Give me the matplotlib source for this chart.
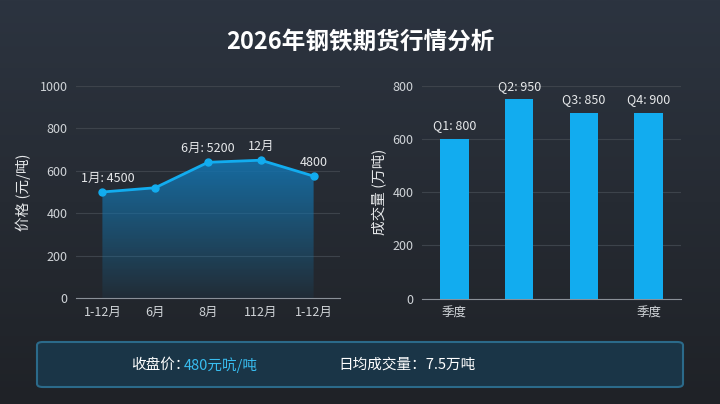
import numpy as np
import matplotlib
matplotlib.use('Agg')
import matplotlib.pyplot as plt
from matplotlib.patches import FancyBboxPatch

plt.rcParams['font.family'] = ['Noto Sans CJK SC', 'DejaVu Sans']

# 价格走势
price_x = ['1-12月', '6月', '8月', '112月', '1-12月']
price_y = [500, 520, 640, 650, 575]
price_notes = ['1月: 4500', '', '6月: 5200', '12月', '4800']

# 季度成交量
quarters = ['季度', '', '', '季度']
volume = [600, 750, 700, 700]
volume_notes = ['Q1: 800', 'Q2: 950', 'Q3: 850', 'Q4: 900']

txt = '#e6e8ea'
tick_c = '#d0d4d8'
grid_c = '#3d434b'
blue = '#12acef'

fig = plt.figure(figsize=(7.2, 4.04), dpi=100)

# 背景渐变
bg = fig.add_axes([0, 0, 1, 1])
grad = np.linspace(0, 1, 256).reshape(-1, 1)
bg.imshow(grad, aspect='auto', cmap=matplotlib.colors.LinearSegmentedColormap.from_list(
    'bg', ['#2c3440', '#262b33', '#1f2227']), extent=[0, 1, 0, 1], origin='upper')
bg.set_xlim(0, 1)
bg.set_ylim(0, 1)
bg.axis('off')

fig.text(0.5, 1 - 42 / 404, '2026年钢铁期货行情分析', ha='center', va='center',
         fontsize=17, fontweight='bold', color='white')

# 左图
ax1 = fig.add_axes([76 / 720, 1 - 298 / 404, 264 / 720, 212 / 404])
ax1.set_facecolor('none')
xs = np.arange(len(price_y))
ax1.plot(xs, price_y, color=blue, lw=2, marker='o', ms=5, zorder=4)

# 线下渐变填充
fill_cmap = matplotlib.colors.LinearSegmentedColormap.from_list(
    'fill', [(0.08, 0.45, 0.65, 0.08), (0.08, 0.45, 0.68, 0.9)])
img = ax1.imshow(np.linspace(0, 1, 256).reshape(-1, 1), cmap=fill_cmap, aspect='auto',
                 extent=[xs[0], xs[-1], 0, max(price_y)], origin='lower', zorder=2)
poly = ax1.fill_between(xs, price_y, 0, color='none')
img.set_clip_path(poly.get_paths()[0], transform=ax1.transData)

for x, y, n in zip(xs, price_y, price_notes):
    if n:
        ax1.text(x + (0.1 if x == 0 else 0), y + 35, n, ha='center', va='bottom',
                 fontsize=9, color=txt)

ax1.set_xlim(-0.5, 4.5)
ax1.set_ylim(0, 1000)
ax1.set_yticks(range(0, 1001, 200))
ax1.set_xticks(xs)
ax1.set_xticklabels(price_x)
ax1.set_ylabel('价格 (元/吨)', color=txt, fontsize=10.5, labelpad=6)

# 右图
ax2 = fig.add_axes([422 / 720, 1 - 298.5 / 404, 259 / 720, 212.5 / 404])
ax2.set_facecolor('none')
qx = np.arange(len(volume))
ax2.bar(qx, volume, width=0.44, color=blue, zorder=3)
for x, v, n in zip(qx, volume, volume_notes):
    ax2.text(x, v + 25, n, ha='center', va='bottom', fontsize=9, color=txt)
ax2.set_xlim(-0.5, 3.5)
ax2.set_ylim(0, 800)
ax2.set_yticks(range(0, 801, 200))
ax2.set_xticks(qx)
ax2.set_xticklabels(quarters)
ax2.set_ylabel('成交量 (万吨)', color=txt, fontsize=10.5, labelpad=4)

for ax in (ax1, ax2):
    ax.grid(axis='y', color=grid_c, lw=0.8, zorder=0)
    ax.set_axisbelow(True)
    for s in ['top', 'right', 'left']:
        ax.spines[s].set_visible(False)
    ax.spines['bottom'].set_color('#8a9098')
    ax.tick_params(length=0, colors=tick_c, labelsize=9, pad=6)

# 底部信息栏
box = FancyBboxPatch((37 / 720, 1 - 387 / 404), 646 / 720, 45 / 404,
                     boxstyle='round,pad=0,rounding_size=0.008',
                     transform=fig.transFigure, facecolor='#1a3547',
                     edgecolor='#2b6a8a', lw=1.5, zorder=1)
bg.add_patch(box)
lab = fig.text(131 / 720, 1 - 365 / 404, '收盘价：', ha='left', va='center',
               fontsize=10.5, color='white')
bg.annotate('480元吭/吨', xy=(1, 0.5), xycoords=lab, xytext=(-4, 0),
            textcoords='offset points', ha='left', va='center',
            fontsize=10.5, color='#38bdf0')
fig.text(338 / 720, 1 - 365 / 404, '日均成交量：7.5万吨', ha='left', va='center',
         fontsize=10.5, color='white')

fig.savefig('out.png', dpi=100)
